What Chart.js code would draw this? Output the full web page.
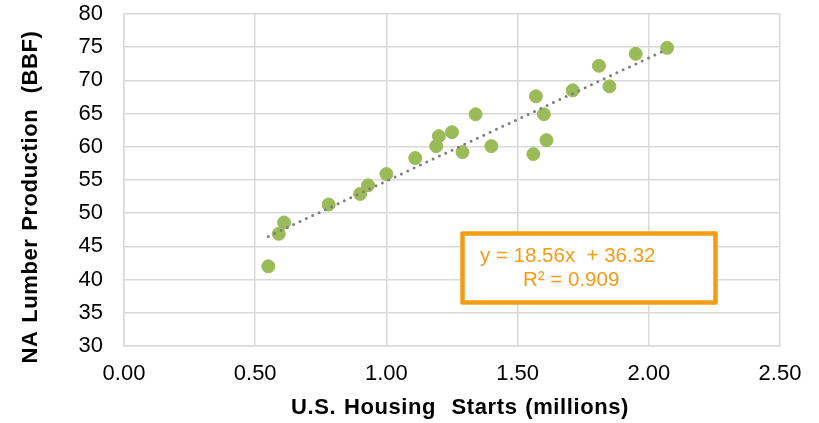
<!DOCTYPE html>
<html>
<head>
<meta charset="utf-8">
<script src="https://cdn.jsdelivr.net/npm/chart.js@4/dist/chart.umd.min.js"></script>
<style>
  html, body { margin: 0; padding: 0; background: #fff; }
  #wrap { width: 819px; height: 423px; }
</style>
</head>
<body>
<div id="wrap"><canvas id="scatterChart" width="819" height="423"></canvas></div>
<script>
// housing starts (millions) vs NA lumber production (BBF)
const housingStarts = [0.55, 0.59, 0.61, 0.78, 0.90, 0.93, 1.00, 1.11, 1.19, 1.20, 1.25, 1.29,
  1.34, 1.40, 1.56, 1.57, 1.60, 1.61, 1.71, 1.81, 1.85, 1.95, 2.07];
const lumberProd = [42.0, 46.9, 48.6, 51.3, 52.9, 54.2, 55.9, 58.3, 60.1, 61.6, 62.2, 59.2,
  64.9, 60.1, 58.9, 67.6, 64.9, 61.0, 68.5, 72.2, 69.1, 74.0, 74.9];
// linear trend line endpoints
const trendX = [0.55, 2.07];
const trendY = [46.5, 74.7];
const eqLabel = 'y = 18.56x  + 36.32';
const r2Label = 'R² = 0.909';
const xTitle = 'U.S. Housing  Starts (millions)';
const yTitle = 'NA Lumber Production  (BBF)';
const xTicks = [0, 0.5, 1, 1.5, 2, 2.5];
const yTicks = [30, 35, 40, 45, 50, 55, 60, 65, 70, 75, 80];

const points = housingStarts.map((x, i) => ({ x: x, y: lumberProd[i] }));
const trend = trendX.map((x, i) => ({ x: x, y: trendY[i] }));

const FONT = '"Liberation Sans", Arial, sans-serif';
const ORANGE = '#F39C16';

// axis titles drawn by hand so the spacing can match Excel's
const axisTitles = {
  id: 'axisTitles',
  afterDraw(chart) {
    const c = chart.ctx;
    c.save();
    c.fillStyle = '#000';
    c.font = 'bold 22px ' + FONT;
    c.letterSpacing = '0.6px';
    c.wordSpacing = '1px';
    c.textAlign = 'center';
    c.textBaseline = 'alphabetic';
    c.fillText(xTitle, 460, 414);
    c.translate(37, 197);
    c.rotate(-Math.PI / 2);
    c.fillText(yTitle, 0, 0);
    c.restore();
  }
};

// equation box like Excel's trendline label
const eqBox = {
  id: 'eqBox',
  afterDatasetsDraw(chart) {
    const c = chart.ctx;
    c.save();
    c.fillStyle = '#fff';
    c.fillRect(460, 231, 258, 74);
    c.strokeStyle = ORANGE;
    c.lineWidth = 4.5;
    c.lineJoin = 'round';
    c.strokeRect(462.5, 233.5, 253, 69);
    c.fillStyle = ORANGE;
    c.font = '20.5px ' + FONT;
    c.textBaseline = 'alphabetic';
    c.fillText(eqLabel, 480, 262);
    c.fillText(r2Label, 523, 286);
    c.restore();
  }
};

const noPad = (s) => {
  s.paddingTop = 0; s.paddingBottom = 0; s.paddingLeft = 0; s.paddingRight = 0;
};

const ctx = document.getElementById('scatterChart').getContext('2d');
new Chart(ctx, {
  type: 'scatter',
  data: {
    datasets: [{
      label: 'Lumber',
      data: points,
      backgroundColor: '#9BBB59',
      borderColor: '#9BBB59',
      pointRadius: 6.5,
      pointHoverRadius: 6.5,
      order: 2
    }, {
      label: 'Trend',
      type: 'line',
      data: trend,
      borderColor: '#7F7F7F',
      borderWidth: 3,
      borderDash: [0, 7],
      borderCapStyle: 'round',
      pointRadius: 0,
      fill: false,
      order: 1
    }]
  },
  options: {
    responsive: false,
    animation: false,
    layout: { padding: { top: 14, right: 39, left: 0, bottom: 0 } },
    plugins: { legend: { display: false }, tooltip: { enabled: false } },
    scales: {
      x: {
        type: 'linear',
        min: 0, max: 2.5,
        afterBuildTicks: (s) => { s.ticks = xTicks.map(v => ({ value: v })); },
        afterFit: (s) => { s.height = 77; noPad(s); },
        grid: { color: '#D9D9D9', lineWidth: 1.5, drawTicks: false },
        border: { color: '#D9D9D9', width: 1.5 },
        ticks: {
          color: '#000', padding: 15,
          font: { family: FONT, size: 22 },
          callback: (v) => Number(v).toFixed(2)
        }
      },
      y: {
        min: 30, max: 80,
        afterBuildTicks: (s) => { s.ticks = yTicks.map(v => ({ value: v })); },
        afterFit: (s) => { s.width = 124; noPad(s); },
        grid: { color: '#D9D9D9', lineWidth: 1.5, drawTicks: false },
        border: { color: '#D9D9D9', width: 1.5 },
        ticks: {
          color: '#000', padding: 21,
          font: { family: FONT, size: 22 }
        }
      }
    }
  },
  plugins: [eqBox, axisTitles]
});
</script>
</body>
</html>
